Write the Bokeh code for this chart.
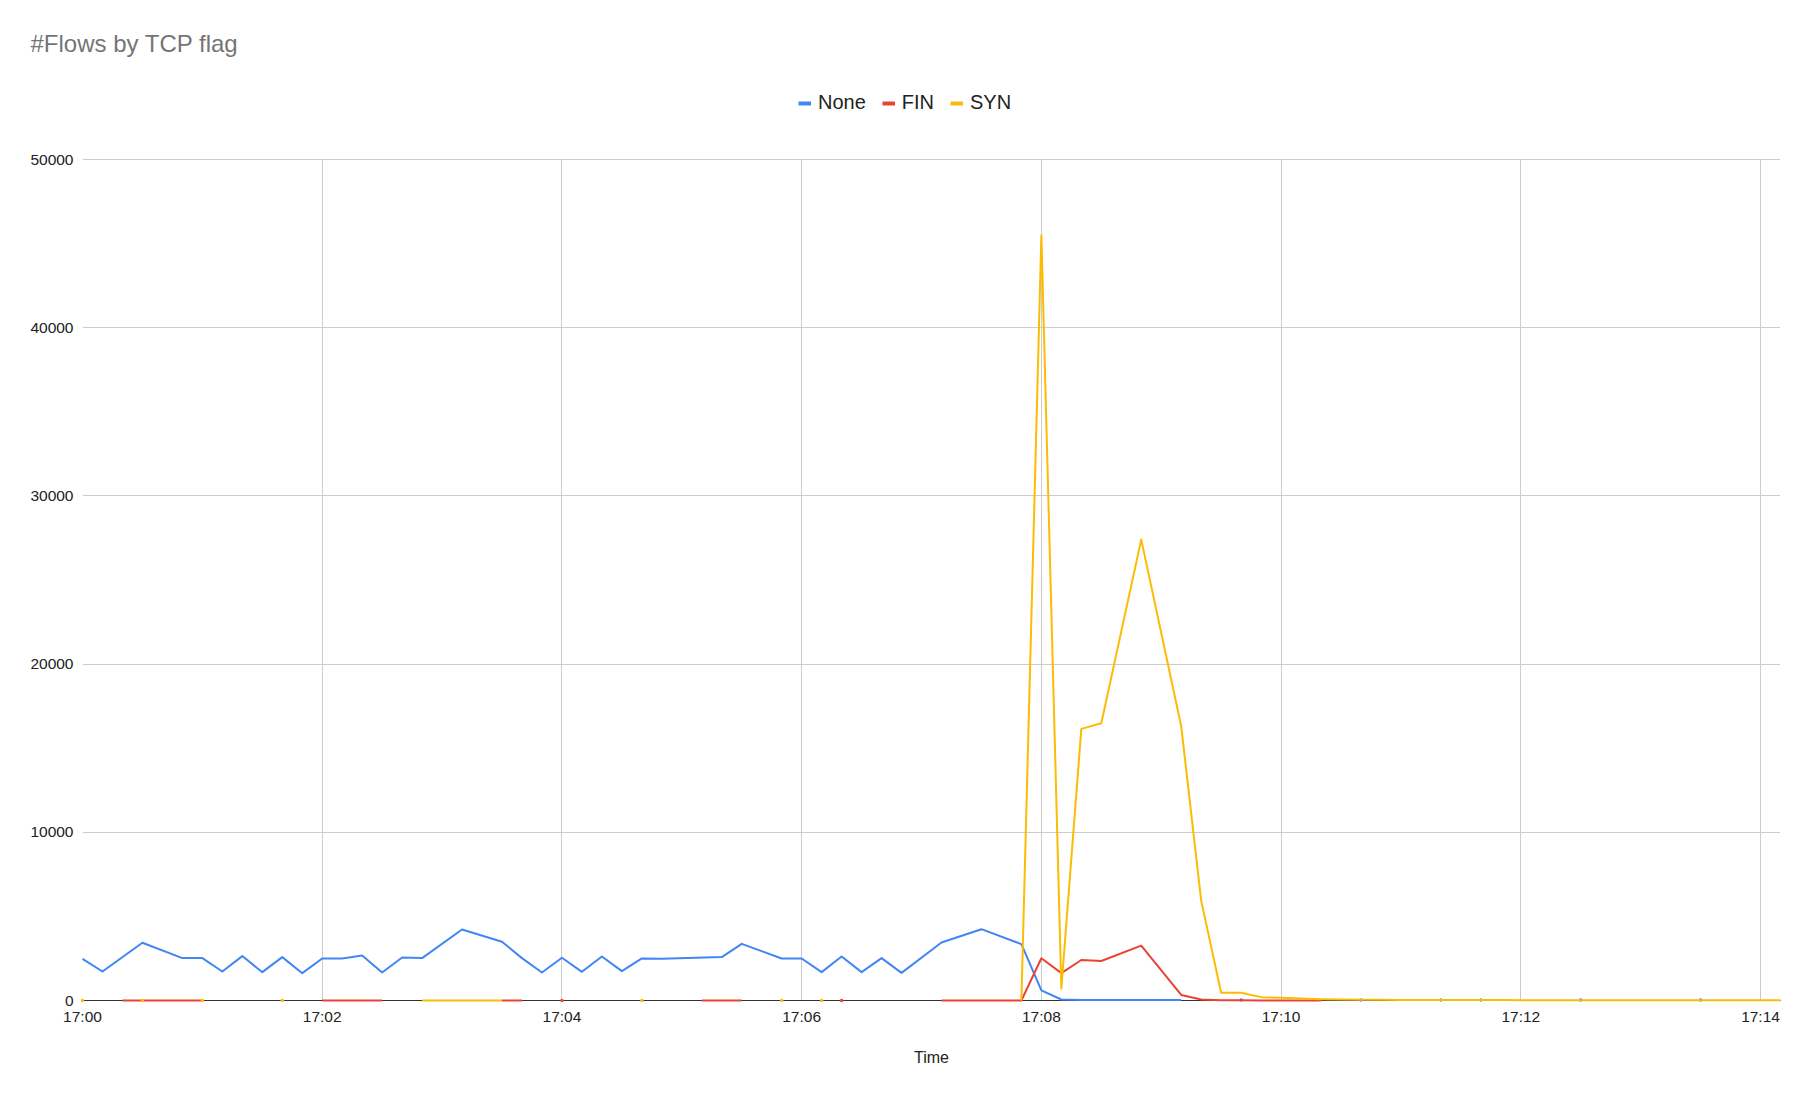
import numpy as np
from bokeh.plotting import figure
from bokeh.models import (Range1d, FixedTicker, DatetimeTickFormatter, NumeralTickFormatter,
                          Legend, LegendItem, Grid)
from bokeh.embed import file_html
from bokeh.resources import INLINE

NAN = float("nan")

# ---- data (seconds after 17:00:00, flow counts); NaN marks a gap ----
none_sec = [0, 10, 30, 50, 60, 70, 80, 90, 100, 110, 120, 130, 140, 150, 160, 170, 190, 210,
            220, 230, 240, 250, 260, 270, 280, 290, 320, 330, 350, 360, 370, 380, 390, 400,
            410, 430, 450, 470, 480, 490, 500, 510, 520, 530, 540, 550, 560, 580, 590, 640,
            650, 680, 690, 700, 710, 750, 760, 810]
none_val = [2480, 1725, 3430, 2520, 2520, 1725, 2640, 1685, 2580, 1625, 2500, 2500, 2680, 1665,
            2560, 2520, 4220, 3490, 2520, 1665, 2540, 1705, 2620, 1745, 2500, 2480, 2580, 3370,
            2500, 2500, 1685, 2620, 1685, 2520, 1645, 3450, 4240, 3350, 600, 60, 30, 30, 25, 30,
            30, 30, NAN, 30, NAN, 30, NAN, 30, NAN, 30, NAN, 30, NAN, 30]

fin_sec = [20, 30, 40, 50, 60, 70, 120, 130, 140, 150, 160, 210, 220, 230, 240, 250, 310, 320,
           330, 340, 380, 390, 430, 440, 450, 460, 470, 480, 490, 500, 510, 530, 550, 560, 570,
           580, 590, 600, 610, 620]
fin_val = [0, 0, 0, 0, 0, NAN, 0, 0, 0, 0, NAN, 0, 0, NAN, 0, NAN, 0, 0, 0, NAN, 0, NAN,
           0, 0, 0, 0, 0, 2510, 1630, 2410, 2350, 3260, 330, 65, 20, 10, 5, 0, 0, 0]

syn_sec = [0, 5, 30, 35, 60, 65, 100, 105, 170, 180, 190, 200, 210, 220, 280, 285, 350, 355,
           370, 375, 470, 480, 490, 500, 510, 530, 550, 560, 570, 580, 590, 600, 610, 620, 630,
           640, 650, 660, 670, 680, 690, 700, 710, 720, 730, 740, 750, 760, 770, 780, 790, 800,
           810, 820, 830, 840, 850]
syn_val = [0, NAN, 0, NAN, 0, NAN, 0, NAN, 0, 0, 0, 0, 0, NAN, 0, NAN, 0, NAN, 0, NAN,
           0, 45500, 720, 16150, 16480, 27400, 16310, 5940, 460, 460, 200, 160, 120, 80, 60,
           50, 40, 35, 30, 30, 25, 25, 25, 20, 20, 20, 20, 20, 20, 20, 20, 20, 20, 20, 20, 20, 20]

series_names = ["None", "FIN", "SYN"]
series_colors = ["#4285F4", "#EA4335", "#FBBC04"]
x_tick_minutes = [0, 2, 4, 6, 8, 10, 12, 14]
y_ticks = [0, 10000, 20000, 30000, 40000, 50000]
y_axis_max = 50000
x_end_sec = 850
# headroom above the axis maximum that holds the legend (frame is 920 px, axis part 841 px)
y_frame_top = y_axis_max * 920 / 841

base = np.datetime64("2024-01-01T17:00:00", "ms")


def to_time(secs):
    return base + np.array(secs, dtype="int64") * np.timedelta64(1000, "ms")


def ms(t):
    return int(t.astype("datetime64[ms]").astype("int64"))


p = figure(width=1808, height=1086, output_backend="svg", toolbar_location=None,
           x_axis_type="datetime",
           x_range=Range1d(ms(base), ms(base + np.timedelta64(x_end_sec * 1000, "ms"))),
           y_range=Range1d(0, y_frame_top),
           min_border_left=82, min_border_right=28, min_border_top=80, min_border_bottom=86)
p.outline_line_color = None
p.background_fill_color = "white"
p.border_fill_color = "white"

# axes
xa = p.xaxis[0]
xa.ticker = FixedTicker(ticks=[ms(base + np.timedelta64(m * 60000, "ms")) for m in x_tick_minutes])
fmt = "%H:%M"
xa.formatter = DatetimeTickFormatter(minsec=fmt, minutes=fmt, hourmin=fmt, hours=fmt, seconds=fmt)
xa.axis_label = "Time"
xa.axis_label_text_font = "Liberation Sans"
xa.axis_label_text_font_size = "16px"
xa.axis_label_text_font_style = "normal"
xa.axis_label_text_color = "#222222"
xa.axis_label_standoff = 21
xa.major_label_text_font = "Liberation Sans"
xa.major_label_text_font_size = "15.5px"
xa.major_label_text_color = "#222222"
xa.major_label_standoff = 7
xa.major_tick_out = 0
xa.major_tick_in = 0
xa.minor_tick_out = 0
xa.minor_tick_in = 0
xa.axis_line_color = "#333333"
xa.axis_line_width = 1

ya = p.yaxis[0]
ya.ticker = FixedTicker(ticks=y_ticks)
ya.formatter = NumeralTickFormatter(format="0")
ya.major_label_text_font = "Liberation Sans"
ya.major_label_text_font_size = "15.5px"
ya.major_label_text_color = "#222222"
ya.major_label_standoff = 9
ya.major_tick_out = 0
ya.major_tick_in = 0
ya.minor_tick_out = 0
ya.minor_tick_in = 0
ya.axis_line_color = None

p.xgrid.grid_line_color = "#cccccc"
p.ygrid.grid_line_color = "#cccccc"
p.xgrid.grid_line_width = 1
p.ygrid.grid_line_width = 1
if "cross_bounds" in Grid.properties():
    p.xgrid.cross_bounds = (0, y_axis_max)

# series
legend_items = []
for name, color, secs, vals in [("None", series_colors[0], none_sec, none_val),
                                ("FIN", series_colors[1], fin_sec, fin_val),
                                ("SYN", series_colors[2], syn_sec, syn_val)]:
    t = to_time(secs)
    v = np.array(vals, dtype=float)
    p.line(t, v, line_color=color, line_width=2, line_join="round", level="overlay")
    # isolated points (no neighbour on either side) drawn as small dots
    iso = []
    for i in range(len(v)):
        if np.isnan(v[i]):
            continue
        left = i > 0 and not np.isnan(v[i - 1])
        right = i < len(v) - 1 and not np.isnan(v[i + 1])
        if not left and not right:
            iso.append(i)
    if iso:
        p.scatter(t[iso], v[iso], size=3.5, marker="circle", fill_color=color,
                  line_color=None, level="overlay")
    # legend swatch: a thicker dash; its single NaN point draws nothing in the plot
    swatch = p.line([NAN], [NAN], line_color=color, line_width=4, line_cap="butt")
    legend_items.append(LegendItem(label=name, renderers=[swatch]))

legend = Legend(items=legend_items, orientation="horizontal", location=(716, 886),
                label_text_font="Liberation Sans", label_text_font_size="20px",
                label_text_color="#222222", glyph_width=13, glyph_height=20,
                label_standoff=7, spacing=16, padding=0, margin=0,
                border_line_color=None, background_fill_alpha=0)
p.add_layout(legend, "center")

# title
p.title.text = "#Flows by TCP flag"
p.title.text_font = "Liberation Sans"
p.title.text_font_size = "24px"
p.title.text_font_style = "normal"
p.title.text_color = "#757575"
p.title.align = "left"
p.title.offset = -52
p.title.standoff = 48

open("out.html", "w").write(file_html(p, INLINE))
